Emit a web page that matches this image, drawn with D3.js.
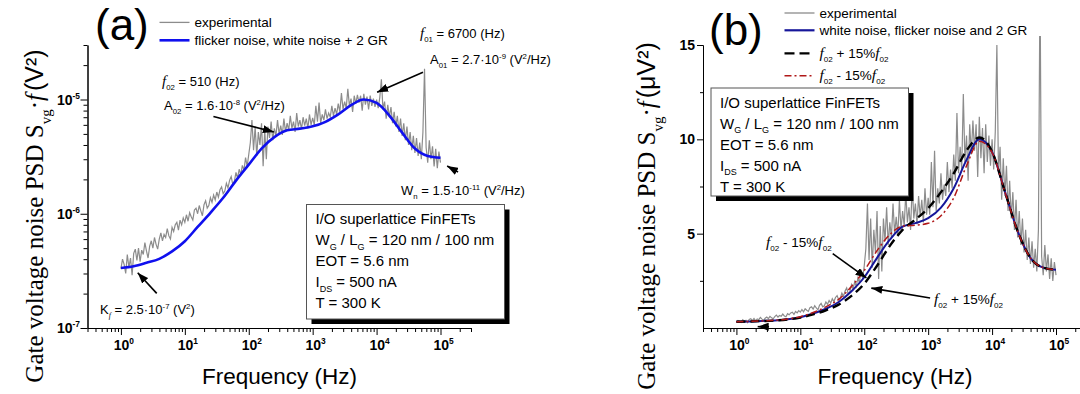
<!DOCTYPE html>
<html>
<head>
<meta charset="utf-8">
<script src="https://cdn.jsdelivr.net/npm/d3@7"></script>
<style>
body{margin:0;background:#fff;}
svg{display:block;font-family:"Liberation Sans",Arial,sans-serif;}
</style>
</head>
<body>
<div id="chart"></div>
<script>
/* gate voltage noise, two panels: (a) log-log, (b) lin-log */
// fit curves, x = log10(f / Hz), values in uV^2
var fitLogF = [0,0.2,0.4,0.6,0.8,1,1.2,1.4,1.6,1.8,2,2.2,2.4,2.6,2.8,3,3.2,3.4,3.6,3.8,4,4.2,4.4,4.6,4.8,5];
var fitMain = [0.335,0.347,0.372,0.403,0.468,0.575,0.767,1.02,1.38,1.95,2.69,3.72,4.68,5.37,5.56,5.82,6.38,7.41,8.91,10.0,9.33,7.24,5.13,3.72,3.2,3.09];
var fitPlus = [0.335,0.345,0.368,0.398,0.455,0.55,0.72,0.94,1.24,1.7,2.35,3.3,4.35,5.2,5.75,6.35,7.2,8.2,9.4,10.1,9.35,7.24,5.13,3.72,3.2,3.09];
var fitMinus = [0.335,0.35,0.376,0.41,0.48,0.6,0.82,1.12,1.52,2.2,3.05,4.1,4.95,5.4,5.45,5.55,5.95,6.9,8.6,9.9,9.3,7.22,5.12,3.72,3.2,3.09];

// measured spectrum, x = log10(f / Hz), values in uV^2
var expLogF = [
	0,0.025,0.05,0.075,0.1,0.125,0.15,0.175,0.2,0.225,0.25,0.275,0.3,0.325,0.35,0.375,0.4,0.425,0.45,0.475,
	0.5,0.525,0.55,0.575,0.6,0.625,0.65,0.675,0.7,0.725,0.75,0.775,0.8,0.825,0.85,0.875,0.9,0.925,0.95,0.975,
	1,1.025,1.05,1.075,1.1,1.125,1.15,1.175,1.2,1.225,1.25,1.275,1.3,1.325,1.35,1.375,1.4,1.425,1.45,1.475,
	1.5,1.525,1.55,1.575,1.6,1.625,1.65,1.675,1.7,1.725,1.75,1.775,1.8,1.825,1.85,1.875,1.9,1.925,1.95,1.975,
	2,2.025,2.05,2.075,2.1,2.125,2.15,2.175,2.2,2.225,2.25,2.275,2.3,2.325,2.35,2.375,2.4,2.425,2.45,2.475,
	2.5,2.525,2.55,2.575,2.6,2.625,2.65,2.675,2.7,2.725,2.75,2.775,2.8,2.825,2.85,2.875,2.9,2.925,2.95,2.975,
	3,3.025,3.05,3.075,3.1,3.125,3.15,3.175,3.2,3.225,3.25,3.275,3.3,3.325,3.35,3.375,3.4,3.425,3.45,3.475,
	3.5,3.525,3.55,3.575,3.6,3.625,3.65,3.675,3.7,3.725,3.75,3.775,3.8,3.825,3.85,3.875,3.9,3.925,3.95,3.975,
	4,4.025,4.05,4.075,4.1,4.125,4.15,4.175,4.2,4.225,4.25,4.275,4.3,4.325,4.35,4.375,4.4,4.425,4.45,4.475,
	4.5,4.525,4.55,4.575,4.6,4.625,4.65,4.675,4.7,4.725,4.75,4.775,4.8,4.825,4.85,4.875,4.9,4.925,4.95,4.975,
	5
];
var expVal = [
	0.33,0.40,0.36,0.30,0.44,0.34,0.41,0.29,0.45,0.49,0.39,0.50,0.38,0.48,0.44,0.56,0.47,0.41,0.52,0.58,
	0.50,0.62,0.54,0.49,0.60,0.68,0.58,0.66,0.62,0.74,0.64,0.60,0.76,0.70,0.80,0.84,0.72,0.88,0.80,0.92,
	0.84,0.98,0.86,1.02,0.94,0.88,1.08,1.12,1.00,1.18,1.06,0.96,1.20,1.30,1.12,1.18,1.38,1.26,1.46,1.32,
	1.55,1.40,1.62,1.72,1.50,1.58,1.85,1.68,1.96,2.12,1.80,1.92,2.30,2.05,2.45,2.20,2.65,2.40,3.10,2.60,
	3.30,4.20,6.60,3.60,5.80,3.20,5.20,4.00,6.20,2.60,5.40,3.00,5.80,4.60,6.40,4.40,5.60,4.80,6.60,5.00,
	5.90,4.90,6.80,5.20,6.20,5.40,7.20,5.60,6.40,5.20,7.60,5.80,6.60,5.50,7.00,5.90,6.80,5.60,7.40,6.00,
	6.90,6.00,8.80,6.40,9.40,6.20,7.40,6.60,8.20,6.80,7.60,7.00,8.80,7.20,8.40,7.40,9.20,7.80,11.40,8.20,
	9.60,8.40,12.40,8.80,10.20,7.80,10.80,9.20,11.00,9.40,10.80,8.00,11.20,9.00,10.60,8.20,10.80,8.80,10.20,8.60,
	10.00,8.40,10.40,15.00,8.20,9.60,6.80,9.00,7.00,8.60,6.20,7.80,5.80,7.20,5.20,6.80,4.80,6.20,4.40,5.80,
	4.00,5.20,3.60,4.80,3.40,4.60,3.20,4.20,3.00,5.20,18.60,3.80,2.80,4.40,3.00,3.90,2.60,3.70,2.50,3.50,
	2.80
];

var decadeTicks = [1, 10, 100, 1000, 10000, 100000];
var decadeExp = ["0", "1", "2", "3", "4", "5"];
var yTicksA = [1e-7, 1e-6, 1e-5];
var yExpA = ["-7", "-6", "-5"];
var yTicksB = [5, 10, 15];
var yMinorB = [2.5, 7.5, 12.5];

// annotation arrows, [tail, tip] in data units
var arrowsA = [
	[[28, 7.1e-6], [247, 5.2e-6]],
	[[53200, 1.73e-5], [10200, 1.16e-5]],
	[[188000, 2.32e-6], [127000, 2.62e-6]],
	[[3.63, 2.01e-7], [1.83, 3.05e-7]]
];
var arrowsB = [
	[[32.1, 3.94], [108, 2.66]],
	[[1072, 1.59], [129, 2.115]],
	[[3.24, 0.07], [2.15, 0.07]]
];

var infoLines = [
	[["I/O superlattice FinFETs"]],
	[["W"], ["G", "sub"], [" / L"], ["G", "sub"], [" = 120 nm / 100 nm"]],
	[["EOT = 5.6 nm"]],
	[["I"], ["DS", "sub"], [" = 500 nA"]],
	[["T = 300 K"]]
];

var SERIF = "'Liberation Serif','Times New Roman',serif",
	SANS = "'Liberation Sans',Arial,sans-serif";

var svg = d3.select("#chart").append("svg").attr("width", 1080).attr("height", 394);
var defs = svg.append("defs");
defs.append("marker").attr("id", "head")
	.attr("viewBox", "0 0 11 8").attr("refX", 11).attr("refY", 4)
	.attr("markerWidth", 11).attr("markerHeight", 8)
	.attr("markerUnits", "userSpaceOnUse").attr("orient", "auto")
	.append("path").attr("d", "M0,0L11,4L0,8z").attr("fill", "#000");

// text with sub/superscripts, kinds: sub, sup, it, itsub, sans
function rich(sel, parts, size){
	var base = 0;
	parts.forEach(function(p){
		var k = p[1] || "",
			shift = k.indexOf("sub") >= 0 ? size * 0.3 : (k.indexOf("sup") >= 0 ? -size * 0.42 : 0);
		var ts = sel.append("tspan").text(p[0]);
		if(shift != base) ts.attr("dy", shift - base);
		base = shift;
		if(shift) ts.attr("font-size", size * 0.6);
		if(k.indexOf("it") >= 0){
			ts.attr("font-family", SERIF).attr("font-style", "italic");
			if(!shift && size < 20) ts.attr("font-size", size * 1.15);
		}
		if(k.indexOf("sans") >= 0) ts.attr("font-family", SANS).attr("dx", 3);
	});
	return sel;
}
function label(g, x, y, parts, size, anchor){
	var t = g.append("text").attr("x", x).attr("y", y).attr("font-size", size).attr("fill", "#000");
	if(anchor) t.attr("text-anchor", anchor);
	return rich(t, parts, size);
}

function minorLog(lo, hi){
	var out = [];
	for(var b = 0.1; b <= hi; b *= 10){
		for(var k = 2; k <= 9; k++){
			var v = +(b * k).toPrecision(3);
			if(v >= lo && v <= hi) out.push(v);
		}
	}
	return out;
}
function blackAxis(sel){
	sel.selectAll("path,line").attr("stroke", "#000").attr("stroke-width", 1);
}

function xAxis(g, x, y0){
	g.append("g").attr("transform", "translate(0," + y0 + ")")
		.call(d3.axisBottom(x).tickValues(minorLog(0.3, 3e5)).tickSize(4).tickSizeOuter(0).tickFormat(""))
		.call(blackAxis);
	g.append("g").attr("transform", "translate(0," + y0 + ")")
		.call(d3.axisBottom(x).tickValues(decadeTicks).tickSize(7).tickSizeOuter(0).tickFormat(""))
		.call(blackAxis);
	decadeTicks.forEach(function(v, i){
		label(g, x(v) + 3, y0 + 22, [["10"], [decadeExp[i], "sup"]], 14, "middle").attr("font-weight", "bold");
	});
}

function panel(opt){
	var g = svg.append("g");
	var x = d3.scaleLog().domain([0.3, 3e5]).range([opt.x0, opt.x0 + 383.5]);
	var y = opt.y;
	var y0 = 328;
	var clipId = "clip" + opt.name;
	defs.append("clipPath").attr("id", clipId).append("rect")
		.attr("x", opt.x0).attr("y", 36).attr("width", 400).attr("height", y0 - 36);
	var plot = g.append("g").attr("clip-path", "url(#" + clipId + ")");
	var line = function(curve){
		return d3.line()
			.x(function(d){ return x(Math.pow(10, d[0])); })
			.y(function(d){ return y(d[1] * opt.unit); })
			.curve(curve);
	};
	var expData = expLogF.map(function(v, i){ return [v, expVal[i]]; });
	plot.append("path").datum(expData)
		.attr("d", line(d3.curveLinear))
		.attr("fill", "none").attr("stroke", "#8c8c8c").attr("stroke-width", 1.2);
	opt.fits.forEach(function(f){
		plot.append("path").datum(fitLogF.map(function(v, i){ return [v, f.values[i]]; }))
			.attr("d", line(d3.curveMonotoneX))
			.attr("fill", "none").attr("stroke", f.color).attr("stroke-width", f.width)
			.attr("stroke-dasharray", f.dash || null);
	});
	xAxis(g, x, y0);
	opt.yAxis(g, y);
	// arrows
	opt.arrows.forEach(function(a){
		g.append("line")
			.attr("x1", x(a[0][0])).attr("y1", y(a[0][1]))
			.attr("x2", x(a[1][0])).attr("y2", y(a[1][1]))
			.attr("stroke", "#000").attr("stroke-width", 1.6)
			.attr("marker-end", "url(#head)");
	});
	// legend
	opt.legend.forEach(function(l){
		g.append("line").attr("x1", opt.legX).attr("x2", opt.legX + 30)
			.attr("y1", l.y).attr("y2", l.y)
			.attr("stroke", l.color).attr("stroke-width", l.width)
			.attr("stroke-dasharray", l.dash || null);
		label(g, opt.legX + 35, l.y + 4.5, l.text, 13.5);
	});
	// info box with shadow
	var b = opt.box;
	g.append("rect").attr("x", b.x + 5).attr("y", b.y + 5).attr("width", b.w).attr("height", b.h).attr("fill", "#000");
	g.append("rect").attr("x", b.x).attr("y", b.y).attr("width", b.w).attr("height", b.h)
		.attr("fill", "#fff").attr("stroke", "#555").attr("stroke-width", 1);
	infoLines.forEach(function(parts, i){
		label(g, b.x + 9, b.y + 19.5 + i * 21, parts, 15);
	});
	opt.notes.forEach(function(n){
		label(g, n.x, n.y, n.parts, n.size || 13);
	});
	// titles
	g.append("text").attr("x", opt.x0 + 192).attr("y", 384).attr("text-anchor", "middle")
		.attr("font-size", 22.5).text("Frequency (Hz)");
	var yt = g.append("text").attr("transform", "translate(" + opt.ytX + ",216) rotate(-90)")
		.attr("text-anchor", "middle").attr("font-family", SERIF).attr("font-size", 25);
	rich(yt, [["Gate voltage noise PSD S"], ["vg", "sub"], ["\u00b7"], ["f", "it"], [opt.yUnit, "sans"]], 25);
	g.append("text").attr("x", opt.tagX).attr("y", opt.tagY).attr("font-size", 44).text(opt.tag);
}

var yA = d3.scaleLog().domain([1e-7, 3e-5]).range([328, 45]);
var yB = d3.scaleLinear().domain([0, 15]).range([328, 45]);

panel({
	name: "a", x0: 87.5, y: yA, unit: 1e-6, tag: "(a)", tagX: 95, tagY: 40, ytX: 43, yUnit: "(V\u00b2)",
	fits: [{values: fitMain, color: "#1010ee", width: 2.6}],
	yAxis: function(g, y){
		var minors = [];
		[1e-7, 1e-6, 1e-5].forEach(function(b){
			for(var k = 2; k <= 9; k++){ if(b * k <= 3.01e-5) minors.push(b * k); }
		});
		g.append("g").attr("transform", "translate(87.5,0)")
			.call(d3.axisLeft(y).tickValues(minors).tickSize(4).tickSizeOuter(0).tickFormat(""))
			.call(blackAxis);
		g.append("g").attr("transform", "translate(87.5,0)")
			.call(d3.axisLeft(y).tickValues(yTicksA).tickSize(7).tickSizeOuter(0).tickFormat(""))
			.call(blackAxis);
		yTicksA.forEach(function(v, i){
			label(g, 80, y(v) + 5, [["10"], [yExpA[i], "sup"]], 14, "end").attr("font-weight", "bold");
		});
	},
	arrows: arrowsA,
	legX: 159.5,
	legend: [
		{y: 22.4, color: "#8c8c8c", width: 1.3, text: [["experimental"]]},
		{y: 40.3, color: "#1010ee", width: 2.6, text: [["flicker noise, white noise + 2 GR"]]}
	],
	box: {x: 306.5, y: 204.5, w: 198, h: 114.5},
	notes: [
		{x: 420, y: 38, parts: [["f", "it"], ["01", "sub"], [" = 6700 (Hz)"]]},
		{x: 430, y: 64, parts: [["A"], ["01", "sub"], [" = 2.7\u00b710"], ["-9", "sup"], [" (V"], ["2", "sup"], ["/Hz)"]]},
		{x: 162, y: 86, parts: [["f", "it"], ["02", "sub"], [" = 510 (Hz)"]]},
		{x: 164, y: 110, parts: [["A"], ["02", "sub"], [" = 1.6\u00b710"], ["-8", "sup"], [" (V"], ["2", "sup"], ["/Hz)"]]},
		{x: 401, y: 195, parts: [["W"], ["n", "sub"], [" = 1.5\u00b710"], ["-11", "sup"], [" (V"], ["2", "sup"], ["/Hz)"]]},
		{x: 100, y: 314, parts: [["K"], ["f", "itsub"], [" = 2.5\u00b710"], ["-7", "sup"], [" (V"], ["2", "sup"], [")"]]}
	]
});

panel({
	name: "b", x0: 703, y: yB, unit: 1, tag: "(b)", tagX: 709, tagY: 45, ytX: 655, yUnit: "(\u03bcV\u00b2)",
	fits: [
		{values: fitMain, color: "#16169a", width: 2},
		{values: fitPlus, color: "#000", width: 2.4, dash: "9,5"},
		{values: fitMinus, color: "#b01818", width: 1.5, dash: "7,3,2,3"}
	],
	yAxis: function(g, y){
		g.append("g").attr("transform", "translate(703,0)")
			.call(d3.axisLeft(y).tickValues(yMinorB).tickSize(3).tickSizeOuter(0).tickFormat(""))
			.call(blackAxis);
		g.append("g").attr("transform", "translate(703,0)")
			.call(d3.axisLeft(y).tickValues(yTicksB).tickSize(6).tickSizeOuter(0).tickFormat(""))
			.call(blackAxis);
		yTicksB.forEach(function(v){
			g.append("text").attr("x", 695).attr("y", y(v) + 5).attr("text-anchor", "end")
				.attr("font-size", 14).attr("font-weight", "bold").text(v);
		});
	},
	arrows: arrowsB,
	legX: 784.5,
	legend: [
		{y: 13, color: "#8c8c8c", width: 1.3, text: [["experimental"]]},
		{y: 30.3, color: "#16169a", width: 2.2, text: [["white noise, flicker noise and 2 GR"]]},
		{y: 53.4, color: "#000", width: 2.4, dash: "10,5", text: [["f", "it"], ["02", "sub"], [" + 15%"], ["f", "it"], ["02", "sub"]]},
		{y: 75.8, color: "#b01818", width: 1.5, dash: "7,3,2,3", text: [["f", "it"], ["02", "sub"], [" - 15%"], ["f", "it"], ["02", "sub"]]}
	],
	box: {x: 711, y: 88, w: 197.5, h: 108},
	notes: [
		{x: 766, y: 247, size: 13.5, parts: [["f", "it"], ["02", "sub"], [" - 15%"], ["f", "it"], ["02", "sub"]]},
		{x: 934, y: 304, size: 13.5, parts: [["f", "it"], ["02", "sub"], [" + 15%"], ["f", "it"], ["02", "sub"]]}
	]
});
</script>
</body>
</html>
